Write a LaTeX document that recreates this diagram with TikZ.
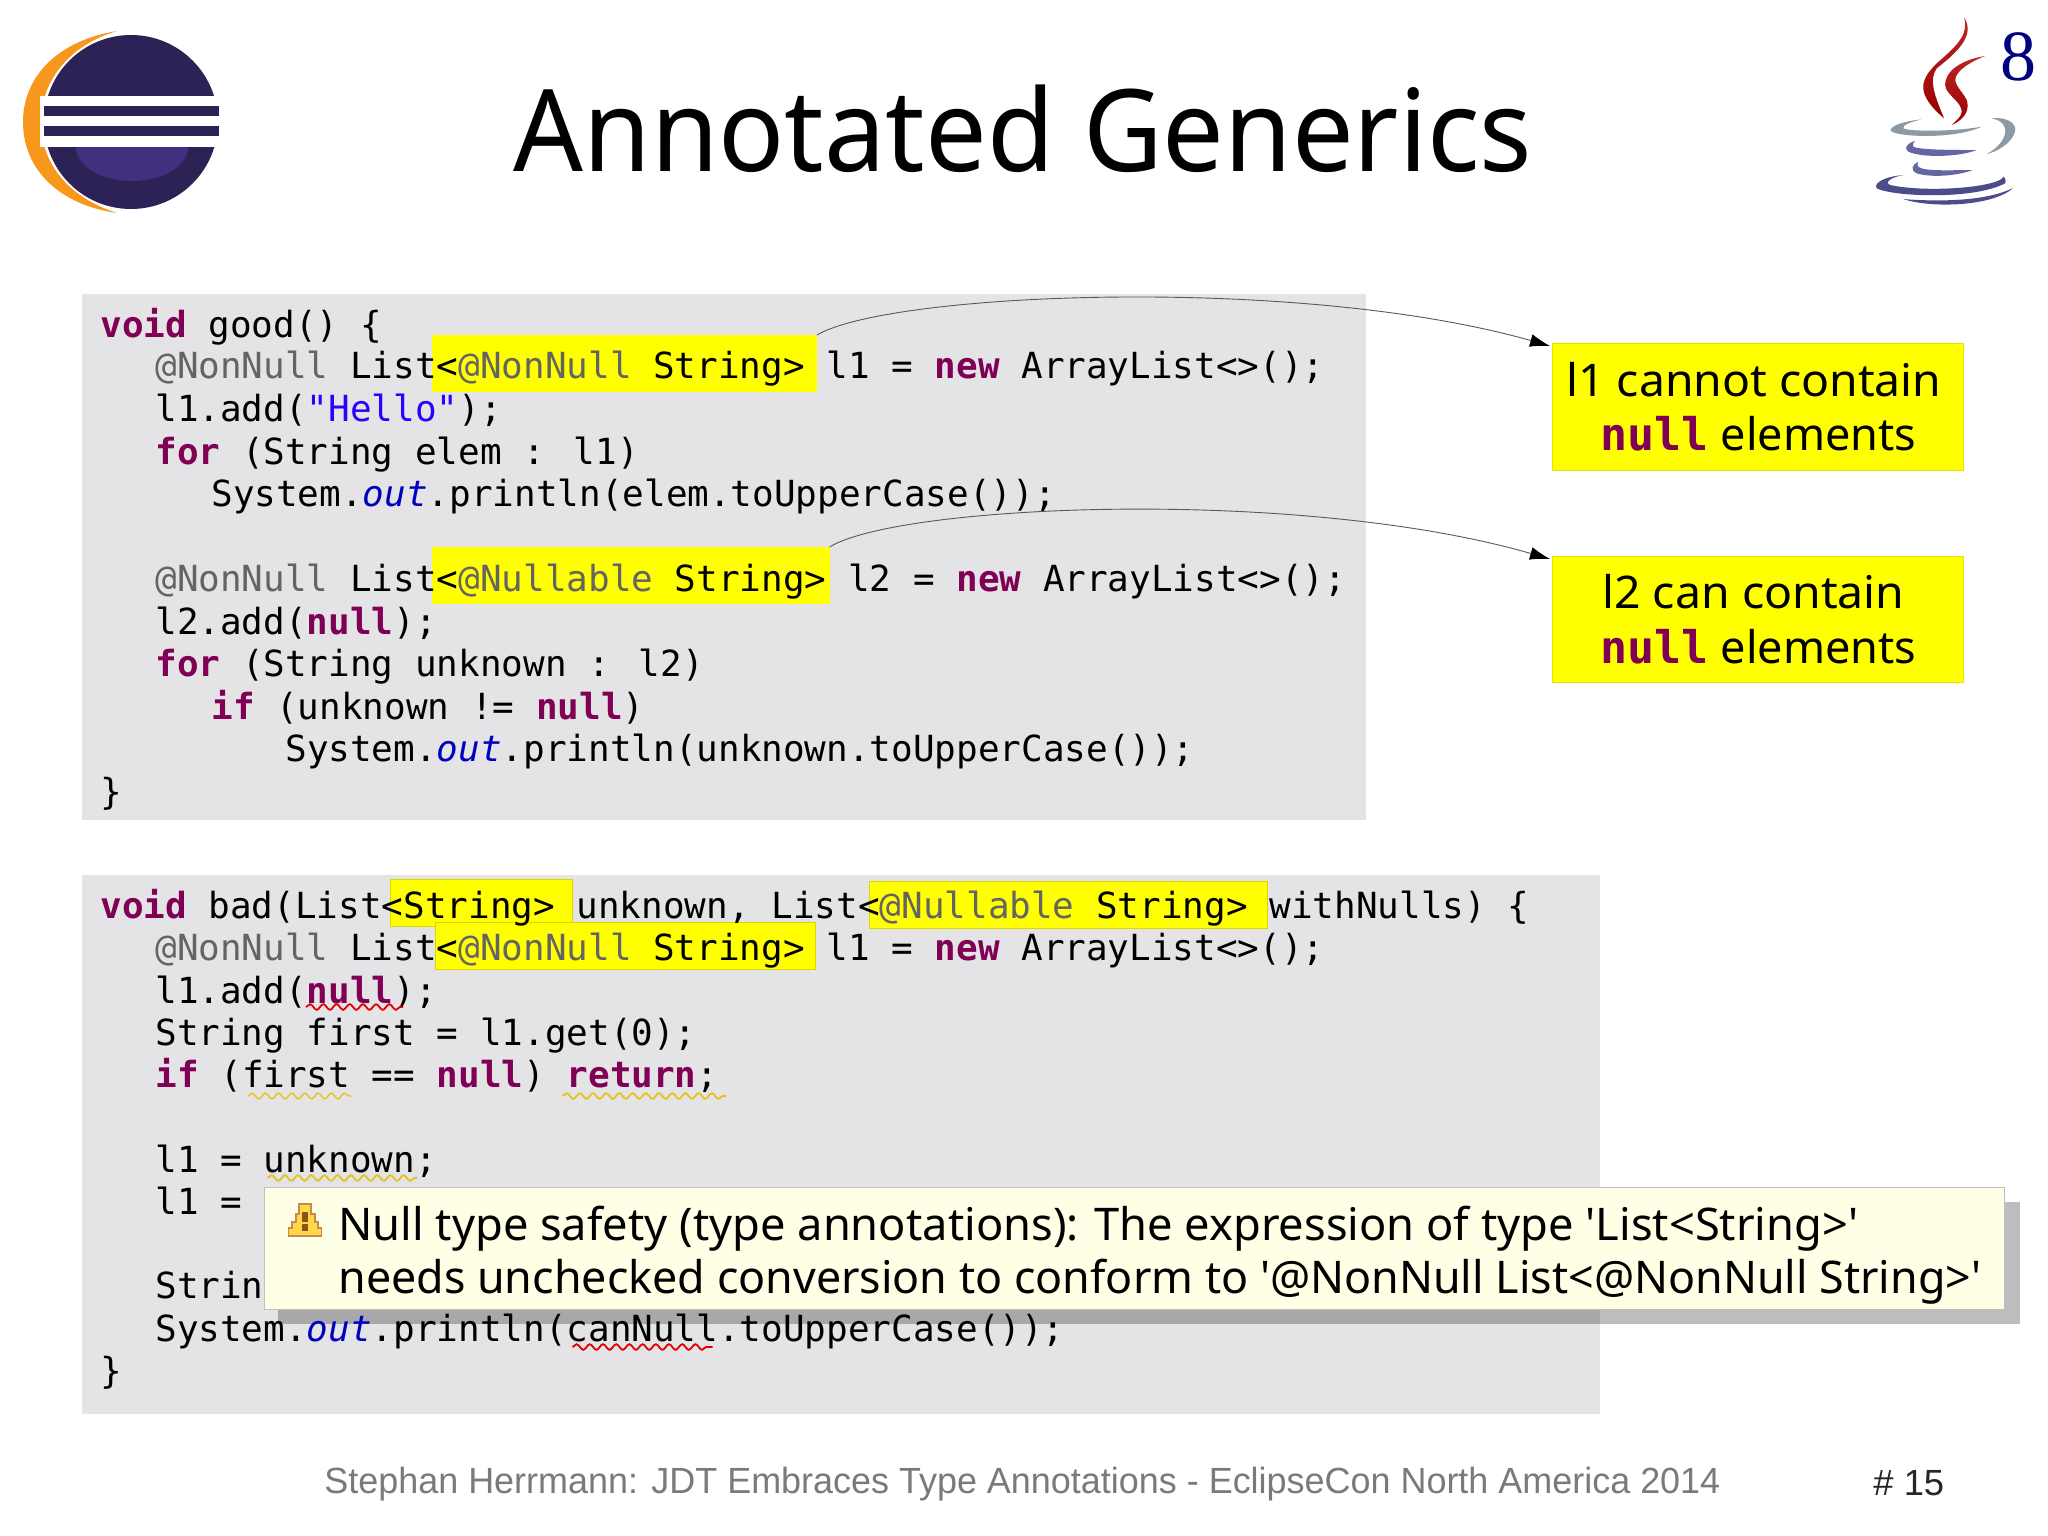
\documentclass[tikz,border=0pt]{standalone}
\usepackage{fontspec}
\usepackage{graphicx}
\usetikzlibrary{arrows.meta,decorations.pathmorphing}
\newfontfamily\codefont{DejaVu Sans Mono}
\newfontfamily\uifont{Noto Sans}
\newfontfamily\footfont{Liberation Sans}
\newfontfamily\numfont{Liberation Serif}
\definecolor{codebg}{HTML}{E4E3E6}
\definecolor{kwcol}{HTML}{7F0055}
\definecolor{strcol}{HTML}{2A00FF}
\definecolor{anncol}{HTML}{646464}
\definecolor{fldcol}{HTML}{0000C0}
\definecolor{hlyellow}{HTML}{FFFF00}
\definecolor{tipbg}{HTML}{FFFFE6}
\definecolor{eclipsedark}{HTML}{2C2255}
\definecolor{eclipselight}{HTML}{41307F}
\definecolor{eclipseorange}{HTML}{F7981D}
\newcommand{\kw}[1]{\textcolor{kwcol}{\bfseries #1}}
\newcommand{\st}[1]{\textcolor{strcol}{#1}}
\newcommand{\an}[1]{\textcolor{anncol}{#1}}
\newcommand{\fl}[1]{\textcolor{fldcol}{\itshape #1}}
\newcommand{\fitw}[2]{\resizebox{\dimexpr #1pt/2\relax}{\height}{#2}}
\newcommand{\rectbox}[6]{\node[#1,anchor=north west,minimum width={(#5-#3)*0.5pt},minimum height={(#6-#4)*0.5pt}] (#2) at (#3,#4) {};}
\newcommand{\codeat}[4]{\node[codeline] (#1) at (#2,#3) {#4};}
\begin{document}
\begin{tikzpicture}[x=0.5pt,y=-0.5pt,
  codeline/.style={anchor=base west,inner sep=0pt,font=\codefont\fontsize{17.98}{20}\selectfont,text=black},
  panel/.style={fill=codebg,inner sep=0pt,outer sep=0pt},
  marker/.style={fill=hlyellow,inner sep=0pt,outer sep=0pt},
  markeredge/.style={fill=hlyellow,draw=hlyellow!85!black,line width=0.4pt,inner sep=0pt,outer sep=0pt},
  note/.style={fill=hlyellow,draw=hlyellow!90!black,line width=0.3pt,inner sep=0pt,outer sep=0pt},
  notetext/.style={anchor=base west,inner sep=0pt,font=\uifont\fontsize{22.5}{26}\selectfont,text=black},
  tiptext/.style={anchor=base west,inner sep=0pt,font=\uifont\fontsize{22.5}{26}\selectfont,text=black},
  link/.style={draw=black!65,line width=0.45pt,-{Latex[length=10pt,width=6.5pt,black]}},
  squiggle/.style={decorate,decoration={snake,segment length=6.6pt,amplitude=1.4pt},line width=0.9pt},
  redsq/.style={squiggle,draw=red!90!black},
  yelsq/.style={squiggle,draw=yellow!70!orange!90!black}]
\useasboundingbox (0,0) rectangle (2048,1535);
\fill[white] (0,0) rectangle (2048,1535);
% Eclipse logo
\fill[eclipseorange] (117,31) .. controls (60,40) and (23,75) .. (23,122) .. controls (23,170) and (60,205) .. (117,213) .. controls (70,198) and (41,165) .. (41,122) .. controls (41,80) and (70,45) .. (117,31) -- cycle;
\fill[eclipsedark] (131,122) circle[radius=87];
\begin{scope}
\clip (131,122) circle[radius=87];
\fill[eclipselight] (132,147) ellipse[x radius=56,y radius=34];
\end{scope}
\fill[white] (40,96) rectangle (222,147);
\fill[eclipsedark] (44,106) rectangle (219,116);
\fill[eclipsedark] (44,126) rectangle (219,136);
% Java logo
\begin{scope}[shift={(1820,0)},x=0.1667pt,y=-0.1667pt]
\shade[top color=red!70!black!85!white,bottom color=red!60!black] (432,52) .. controls (445,100) and (420,130) .. (350,190) .. controls (300,240) and (285,280) .. (372,355) .. controls (345,290) and (325,240) .. (350,205) .. controls (400,165) and (470,110) .. (432,52) -- cycle;
\shade[top color=red!70!black!85!white,bottom color=red!60!black] (495,168) .. controls (420,180) and (375,215) .. (375,255) .. controls (378,285) and (425,305) .. (425,335) .. controls (425,350) and (405,365) .. (395,375) .. controls (440,355) and (448,325) .. (440,300) .. controls (425,270) and (395,250) .. (410,225) .. controls (425,200) and (465,180) .. (495,168) -- cycle;
\fill[blue!35!cyan!20!black!45!white] (305,358) .. controls (240,365) and (210,380) .. (212,392) .. controls (225,410) and (400,420) .. (485,380) .. controls (400,395) and (270,395) .. (250,385) .. controls (245,375) and (275,365) .. (305,358) -- cycle;
\fill[blue!35!cyan!20!black!45!white] (515,355) .. controls (570,350) and (590,375) .. (585,395) .. controls (575,430) and (530,455) .. (500,462) .. controls (540,440) and (560,410) .. (555,385) .. controls (550,365) and (530,358) .. (515,355) -- cycle;
\fill[blue!40!black!60!white] (285,423) .. controls (260,430) and (250,445) .. (265,455) .. controls (310,475) and (420,470) .. (470,450) .. controls (400,450) and (300,450) .. (280,440) .. controls (275,435) and (280,428) .. (285,423) -- cycle;
\fill[blue!40!black!60!white] (295,485) .. controls (275,495) and (270,510) .. (290,520) .. controls (340,535) and (420,525) .. (458,510) .. controls (400,510) and (310,515) .. (295,500) .. controls (290,495) and (292,490) .. (295,485) -- cycle;
\fill[blue!35!black!70!white] (250,525) .. controls (190,530) and (160,550) .. (170,565) .. controls (220,590) and (460,600) .. (555,550) .. controls (560,540) and (552,530) .. (550,530) .. controls (540,560) and (330,580) .. (210,555) .. controls (190,545) and (220,530) .. (250,525) -- cycle;
\fill[blue!35!black!70!white] (250,597) .. controls (350,605) and (500,605) .. (580,563) .. controls (520,620) and (330,625) .. (250,597) -- cycle;
\end{scope}
\node[anchor=base,inner sep=0pt,font=\numfont\fontsize{36}{40}\selectfont,text=blue!50!black] (eight) at (2018,81) {8};
% Title
\node[anchor=base west,inner sep=0pt,font=\uifont\fontsize{57}{60}\selectfont,text=black] (title) at (513,172) {\fitw{1019}{Annotated Generics}};
% Panels
\rectbox{panel}{panelA}{81.5}{294}{1366}{820}
\rectbox{panel}{panelB}{81.5}{875}{1600}{1414}
% Highlights
\rectbox{marker}{hA}{432}{335}{817}{391.5}
\rectbox{marker}{hB}{432}{547}{829.5}{604}
\rectbox{markeredge}{hC}{390}{879}{572.5}{926}
\rectbox{markeredge}{hD}{869}{881}{1267}{928}
\rectbox{markeredge}{hE}{435.5}{922}{815}{969}
% Tooltip shadow under code text
\fill[black,opacity=0.26] (278,1202) rectangle (2019.5,1324);
% Code, first panel
\codeat{a1}{100}{337}{\kw{void} good() \{}
\codeat{a2}{155}{379}{\an{@NonNull} List<\an{@NonNull} String> l1 = \kw{new} ArrayList<>();}
\codeat{a3}{155}{421.5}{l1.add(\st{"Hello"});}
\codeat{a4}{155}{464}{\kw{for} (String elem : l1)}
\codeat{a5}{211}{506.5}{System.\fl{out}.println(elem.toUpperCase());}
\codeat{a6}{155}{591.5}{\an{@NonNull} List<\an{@Nullable} String> l2 = \kw{new} ArrayList<>();}
\codeat{a7}{155}{634}{l2.add(\kw{null});}
\codeat{a8}{155}{676.5}{\kw{for} (String unknown : l2)}
\codeat{a9}{211}{719}{\kw{if} (unknown != \kw{null})}
\codeat{a10}{285}{761.5}{System.\fl{out}.println(unknown.toUpperCase());}
\codeat{a11}{100}{804}{\}}
% Code, second panel
\codeat{b1}{100}{918}{\kw{void} bad(List<String> unknown, List<\an{@Nullable} String> withNulls) \{}
\codeat{b2}{155}{960}{\an{@NonNull} List<\an{@NonNull} String> l1 = \kw{new} ArrayList<>();}
\codeat{b3}{155}{1003}{l1.add(\kw{null});}
\codeat{b4}{155}{1045}{String first = l1.get(0);}
\codeat{b5}{155}{1087.5}{\kw{if} (first == \kw{null}) \kw{return};}
\codeat{b6}{155}{1172}{l1 = unknown;}
\codeat{b7}{155}{1214}{l1 =}
\codeat{b8}{155}{1298}{Strin}
\codeat{b9}{155}{1341}{System.\fl{out}.println(canNull.toUpperCase());}
\codeat{b10}{100}{1383.5}{\}}
% Squiggles
\draw[redsq] (306,1007) -- (403,1007);
\draw[yelsq,line width=0.7pt] (248,1096) -- (351,1096);
\draw[yelsq] (562.5,1096) -- (726,1096);
\draw[yelsq] (267.5,1178) -- (417,1178);
\draw[redsq] (572.5,1347) -- (712.5,1347);
% Notes
\rectbox{note}{noteA}{1552}{343}{1963}{470}
\rectbox{note}{noteB}{1552}{556}{1963}{682}
\node[notetext] (na1) at (1566,396) {\fitw{375}{l1 cannot contain}};
\node[notetext] (na2) at (1600,450.5) {\fitw{316}{{\codefont\bfseries\textcolor{kwcol}{null}} elements}};
\node[notetext] (nb1) at (1602,608.5) {\fitw{302}{l2 can contain}};
\node[notetext] (nb2) at (1600,663) {\fitw{316}{{\codefont\bfseries\textcolor{kwcol}{null}} elements}};
% Arrows
\draw[link] (hA.north east) .. controls (890,292) and (1300,275) .. ([shift={(-2,3)}]noteA.north west);
\draw[link] (hB.north east) .. controls (900,504) and (1300,487) .. ([shift={(-2,3)}]noteB.north west);
% Tooltip
\node[fill=tipbg,draw=black!25,line width=0.5pt,anchor=north west,inner sep=0pt,outer sep=0pt,minimum width={(2004-264)*0.5pt},minimum height={(1309-1187.5)*0.5pt}] (tip) at (264,1187.5) {};
\fill[orange!45!yellow!70!white,draw=orange!70!black!70!white,line width=0.8pt] (288.5,1236) -- (288.5,1228) -- (292,1228) -- (292,1222) -- (296,1222) -- (296,1214) -- (299,1214) -- (299,1204) -- (311,1204) -- (311,1214) -- (315,1214) -- (315,1222) -- (318,1222) -- (318,1228) -- (321.5,1228) -- (321.5,1236) -- cycle;
\fill[orange!50!black!90!white] (302,1212) rectangle (308,1222);
\fill[orange!50!black!90!white] (302,1224) rectangle (308,1231);
\node[tiptext] (t1) at (338,1240) {\fitw{1520}{Null type safety (type annotations): The expression of type 'List<String>'}};
\node[tiptext] (t2) at (338,1293) {\fitw{1643}{needs unchecked conversion to conform to '@NonNull List<@NonNull String>'}};
% Footer
\node[anchor=base west,inner sep=0pt,font=\footfont\fontsize{18.2}{22}\selectfont,text=black!52] (foot) at (324,1493) {\fitw{1396}{Stephan Herrmann: JDT Embraces Type Annotations - EclipseCon North America 2014}};
\node[anchor=base west,inner sep=0pt,font=\footfont\fontsize{18.2}{22}\selectfont,text=black!85] (page) at (1873,1495) {\# 15};
\end{tikzpicture}
\end{document}
